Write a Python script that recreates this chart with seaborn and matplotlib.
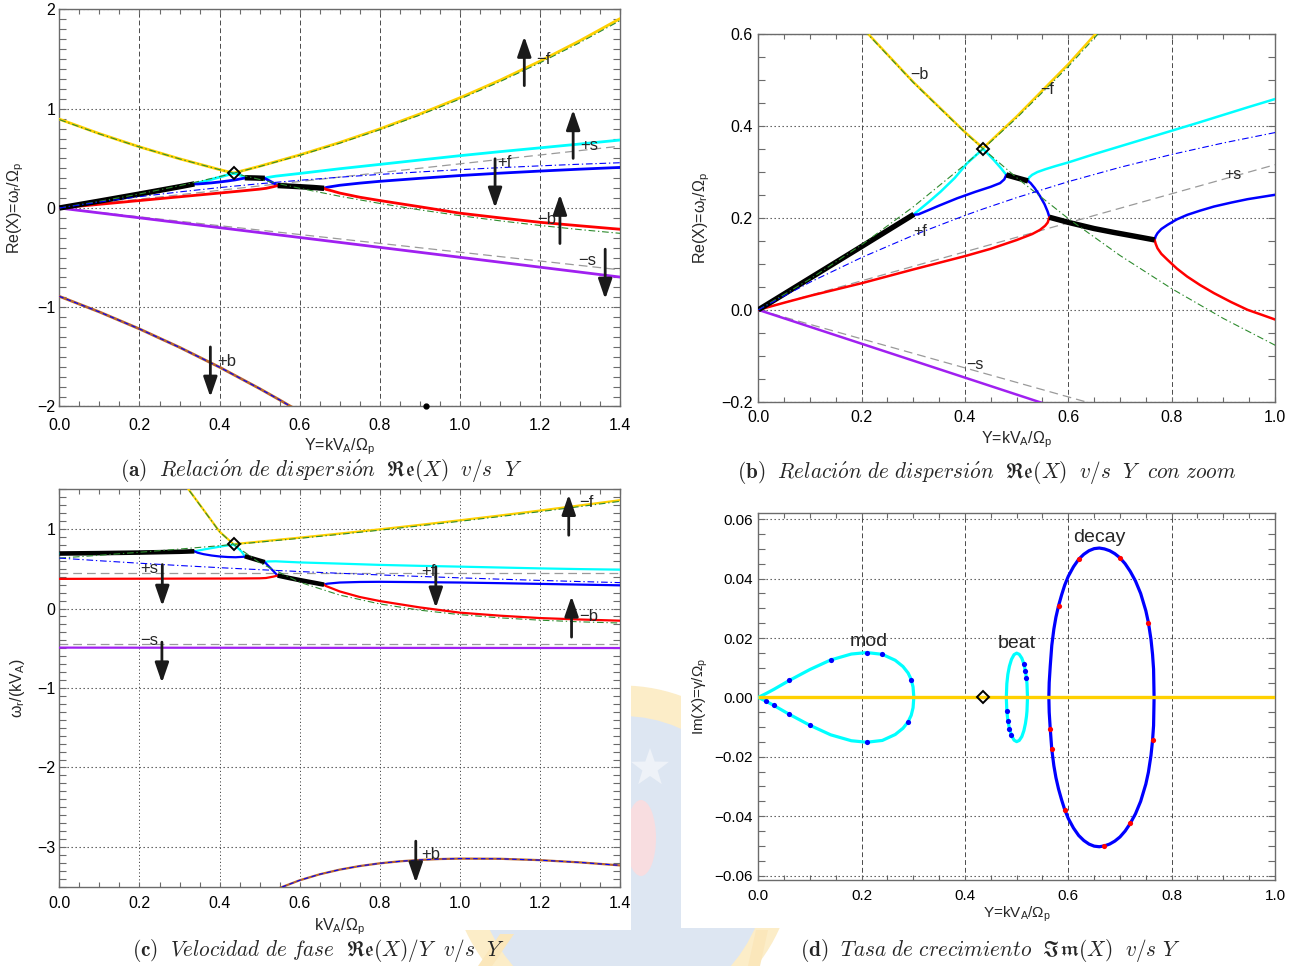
import numpy as np
import matplotlib
matplotlib.use("Agg")
import matplotlib.pyplot as plt
from matplotlib.ticker import MultipleLocator
from matplotlib.patches import Ellipse, Rectangle, Polygon
from matplotlib.transforms import Affine2D
import seaborn as sns

# ---------------------------------------------------------------------------
# Pump wave position in the (Y, Re X) plane
PUMP_Y = 0.435
PUMP_RE = 0.3506

# ---------------------------------------------------------------------------
# Uncoupled sideband lines on a common Y grid (same pump for every panel)
y_grid = [0.0, 0.1, 0.2, 0.3, 0.4, 0.435, 0.5, 0.6, 0.7, 0.8, 0.9, 1.0, 1.1, 1.2, 1.3, 1.4]
# branch through the origin and the pump (phase velocity Re X / Y)
green_up_vph = [0.6346, 0.670, 0.708, 0.748, 0.7905, 0.806, 0.8354, 0.883, 0.9329,
                0.9853, 1.0401, 1.0973, 1.1568, 1.2186, 1.2824, 1.3484]
# branch starting at Re X = 0.89 and crossing the pump
green_down_re = [0.8904, 0.7464, 0.6148, 0.4950, 0.3862, 0.3506, 0.2877, 0.1987, 0.1184,
                 0.0462, -0.0187, -0.0769, -0.1291, -0.1758, -0.2177, -0.2552]
# +f line (phase velocity)
fwd_vph = [0.6346, 0.601, 0.570, 0.541, 0.514, 0.505, 0.4888, 0.4653, 0.4433,
           0.4229, 0.4038, 0.386, 0.3694, 0.3538, 0.3394, 0.3258]
# -b / -f root
yellow_re = [0.895, 0.749, 0.616, 0.496, 0.387, 0.352, 0.421, 0.535, 0.660, 0.797,
             0.947, 1.110, 1.287, 1.479, 1.686, 1.908]
# +b root
plusb_y = [0.0, 0.1, 0.2, 0.3, 0.4, 0.5, 0.55, 0.6, 0.65, 0.7, 0.75, 0.8, 0.85, 0.9, 0.95,
           1.0, 1.1, 1.2, 1.3, 1.4]
plusb_re = [-0.8904, -1.0475, -1.2185, -1.4038, -1.6041, -1.8198, -1.9337, -2.0516, -2.1736,
            -2.2997, -2.4301, -2.5647, -2.7036, -2.8468, -2.9944, -3.1464, -3.4637, -3.7990,
            -4.1526, -4.5246]
# sound lines (phase velocity)
sound_y = [0.0, 1.4]
sound_vph_a = [0.445, 0.445]
sound_vph_b = [0.316, 0.316]

# ---------------------------------------------------------------------------
# Coupled roots, first parameter set (panels a and c), as phase velocity
a_black1_y = [0.0, 0.1, 0.2, 0.3, 0.337]
a_black1_v = [0.692, 0.697, 0.704, 0.714, 0.720]
a_cyan2_y = [0.337, 0.36, 0.38, 0.40, 0.42, 0.435]
a_cyan2_v = [0.720, 0.742, 0.760, 0.778, 0.794, 0.806]
a_cyan3_y = [0.435, 0.445, 0.455, 0.463]
a_cyan3_v = [0.806, 0.765, 0.715, 0.658]
a_blue1_y = [0.337, 0.345, 0.36, 0.38, 0.40, 0.42, 0.44, 0.463]
a_blue1_v = [0.720, 0.702, 0.684, 0.667, 0.655, 0.648, 0.645, 0.652]
a_black2_y = [0.463, 0.488, 0.513]
a_black2_v = [0.658, 0.620, 0.583]
a_cyan4_y = [0.513, 0.52, 0.54, 0.6, 0.7, 0.8, 0.9, 1.0, 1.1, 1.2, 1.3, 1.4]
a_cyan4_v = [0.583, 0.592, 0.594, 0.580, 0.565, 0.549, 0.537, 0.527, 0.516, 0.505, 0.496, 0.489]
a_blue2_y = [0.513, 0.52, 0.53, 0.54, 0.545]
a_blue2_v = [0.583, 0.546, 0.494, 0.441, 0.415]
a_red1_y = [0.0, 0.1, 0.2, 0.3, 0.4, 0.45, 0.5, 0.516, 0.535, 0.545]
a_red1_v = [0.373, 0.374, 0.375, 0.376, 0.377, 0.378, 0.380, 0.384, 0.402, 0.415]
a_black3_y = [0.545, 0.575, 0.605, 0.635, 0.661]
a_black3_v = [0.415, 0.383, 0.353, 0.325, 0.300]
a_blue3_y = [0.661, 0.665, 0.67, 0.70, 0.75, 0.80, 0.90, 1.0, 1.1, 1.2, 1.3, 1.4]
a_blue3_v = [0.300, 0.308, 0.313, 0.327, 0.334, 0.336, 0.332, 0.327, 0.319, 0.310, 0.301, 0.292]
a_red2_y = [0.661, 0.665, 0.68, 0.70, 0.75, 0.80, 0.90, 1.0, 1.1, 1.2, 1.3, 1.4]
a_red2_v = [0.300, 0.284, 0.255, 0.215, 0.145, 0.094, 0.014, -0.052, -0.090, -0.120, -0.138, -0.153]
a_purple_y = [0.0, 0.7, 1.4]
a_purple_v = [-0.492, -0.495, -0.497]

# ---------------------------------------------------------------------------
# Coupled roots, second parameter set (panel b), as Re X
b_black1_y = [0.0, 0.1, 0.2, 0.301]
b_black1_re = [0.0, 0.069, 0.138, 0.208]
b_cyan2_y = [0.301, 0.33, 0.353, 0.38, 0.404, 0.435]
b_cyan2_re = [0.208, 0.235, 0.2575, 0.287, 0.319, 0.3506]
b_cyan3_y = [0.435, 0.456, 0.47, 0.48]
b_cyan3_re = [0.3506, 0.326, 0.308, 0.2938]
b_blue1_y = [0.301, 0.31, 0.327, 0.35, 0.385, 0.42, 0.45, 0.468, 0.476, 0.48]
b_blue1_re = [0.207, 0.208, 0.216, 0.227, 0.243, 0.257, 0.268, 0.276, 0.284, 0.2938]
b_black2_y = [0.48, 0.522]
b_black2_re = [0.2938, 0.2807]
b_cyan4_y = [0.522, 0.524, 0.53, 0.54, 0.555, 0.575, 0.6, 0.65, 0.7, 0.75, 0.8, 0.85, 0.9, 0.95, 1.0]
b_cyan4_re = [0.2807, 0.288, 0.294, 0.300, 0.306, 0.313, 0.321, 0.339, 0.356, 0.373, 0.390,
              0.407, 0.4245, 0.442, 0.459]
b_blue2_y = [0.522, 0.527, 0.535, 0.545, 0.554, 0.56, 0.5635]
b_blue2_re = [0.2807, 0.276, 0.265, 0.248, 0.230, 0.214, 0.2016]
b_red1_y = [0.0, 0.05, 0.1, 0.2, 0.3, 0.4, 0.45, 0.5, 0.53, 0.545, 0.555, 0.56, 0.5635]
b_red1_re = [0.0, 0.0155, 0.0305, 0.058, 0.088, 0.117, 0.133, 0.152, 0.165, 0.174, 0.183, 0.190, 0.2016]
b_black3_y = [0.5635, 0.601, 0.65, 0.689, 0.73, 0.767]
b_black3_re = [0.2016, 0.1902, 0.177, 0.1684, 0.160, 0.1523]
b_split_y = [0.767, 0.769, 0.7726, 0.78, 0.792, 0.81, 0.83, 0.855, 0.882, 0.915, 0.947, 0.975, 1.0]
b_blue3_re = [0.1523, 0.160, 0.167, 0.176, 0.1851, 0.197, 0.2068, 0.216, 0.225, 0.2335, 0.241, 0.246, 0.2505]
b_red2_re = [0.1523, 0.144, 0.134, 0.122, 0.1089, 0.090, 0.0725, 0.054, 0.0363, 0.017, 0.0, -0.011, -0.021]
b_purple_y = [0.0, 1.0]
b_purple_re = [0.0, -0.369]

# ---------------------------------------------------------------------------
# Growth rates (panel d), upper half of each loop; the conjugate root mirrors it
mod_y = [0.0, 0.015, 0.03, 0.06, 0.10, 0.14, 0.18, 0.21, 0.24, 0.265, 0.28, 0.29, 0.296, 0.2995, 0.301]
mod_im = [0.0, 0.0013, 0.0027, 0.0057, 0.0094, 0.0126, 0.0146, 0.0151, 0.0145, 0.0125,
          0.0104, 0.0082, 0.0060, 0.0035, 0.0]
beat_y = [0.480, 0.481, 0.483, 0.486, 0.490, 0.495, 0.500, 0.505, 0.510, 0.514, 0.517, 0.519, 0.520, 0.521]
beat_im = [0.0, 0.0046, 0.0078, 0.0105, 0.0128, 0.0144, 0.0149, 0.0145, 0.0132, 0.0112,
           0.0088, 0.0064, 0.0046, 0.0]
decay_y = [0.5623, 0.563, 0.565, 0.568, 0.572, 0.576, 0.581, 0.587, 0.593, 0.60, 0.61, 0.62,
           0.63, 0.64, 0.65, 0.66, 0.67, 0.68, 0.69, 0.70, 0.71, 0.72, 0.73, 0.74, 0.75, 0.755,
           0.76, 0.763, 0.765, 0.766]
decay_im = [0.0, 0.005, 0.0105, 0.0175, 0.0230, 0.0270, 0.0308, 0.0345, 0.0378, 0.0408, 0.0440,
            0.0465, 0.0482, 0.0494, 0.0501, 0.0503, 0.0500, 0.0494, 0.0484, 0.0470, 0.0450,
            0.0424, 0.0392, 0.0350, 0.0292, 0.0252, 0.0195, 0.0145, 0.0095, 0.0]
im_y_span = [0.0, 1.0]
im_zero = [0.0, 0.0]

# ---------------------------------------------------------------------------
sns.set_theme(style="white")
plt.rcParams.update({
    "font.family": ["Liberation Sans", "DejaVu Sans"],
    "mathtext.fontset": "custom",
    "mathtext.rm": "Liberation Sans",
    "mathtext.it": "Liberation Sans:italic",
    "mathtext.bf": "Liberation Sans:bold",
    "axes.unicode_minus": True,
})

YEL = "#ffd000"
CYAN = "#00ffff"
BLUE = "#0000ff"
RED = "#ff0000"
PURPLE = "#a020f0"
GREEN = "#2e8b2e"
GREY = "#9a9a9a"
BROWN = "#b8652e"
FRAME_C = "#6b6b6b"
GRID_C = "#4a4a4a"
DASHED = (0, (5, 3))
DOTTED = (0, (1.2, 2.4))
DASHDOT = (0, (6, 2.5, 1.2, 2.5))
SNDDASH = (0, (7, 4))

W, H = 1296, 966
fig = plt.figure(figsize=(W / 100, H / 100), dpi=100)
fig.patch.set_facecolor("white")
px = Affine2D().scale(1.0 / W, -1.0 / H).translate(0, 1) + fig.transFigure

# faint crest printed behind the lower figures
fig.add_artist(Ellipse((622, 858), 345, 345, transform=px, facecolor="#fcedc8", edgecolor="none", zorder=-3))
fig.add_artist(Ellipse((622, 866), 292, 300, transform=px, facecolor="#dde6f2", edgecolor="none", zorder=-3))
fig.add_artist(Ellipse((641, 838), 30, 76, transform=px, facecolor="#f8dde0", edgecolor="none", zorder=-3))
ang = np.linspace(0, 2 * np.pi, 11)[:-1] + np.pi / 2
rad = np.where(np.arange(10) % 2 == 0, 20, 8)
fig.add_artist(Polygon(np.c_[650 + rad * np.cos(ang), 768 - rad * np.sin(ang)], transform=px,
                       facecolor="#eef2f8", edgecolor="none", zorder=-3))
fig.add_artist(Polygon([(478, 966), (500, 934), (514, 934), (492, 966)], transform=px,
                       facecolor="#fbe7bb", edgecolor="none", zorder=-3))
fig.add_artist(Polygon([(748, 966), (756, 930), (768, 930), (760, 966)], transform=px,
                       facecolor="#fbe7bb", edgecolor="none", zorder=-3))
fig.add_artist(Rectangle((0, 480), 631, 450, transform=px, facecolor="white", edgecolor="none", zorder=-1))
fig.add_artist(Rectangle((681, 480), 615, 448, transform=px, facecolor="white", edgecolor="none", zorder=-1))


def frac_box(l, t, r, b):
    return [l / W, 1 - b / H, (r - l) / W, (b - t) / H]


axA = fig.add_axes(frac_box(59.4, 9.5, 620, 406.5))
axB = fig.add_axes(frac_box(758.3, 34.3, 1275, 401.7))
axC = fig.add_axes(frac_box(59.4, 489.3, 620, 886.7))
axD = fig.add_axes(frac_box(758.3, 513.3, 1275, 880))


def draw(ax, x, y, color, lw, ls="-", z=3, cap="round"):
    sns.lineplot(x=np.asarray(x, float), y=np.asarray(y, float), ax=ax, color=color,
                 linewidth=lw, linestyle=ls, estimator=None, sort=False, errorbar=None,
                 zorder=z, solid_capstyle=cap)


def arrow(ax, x, y_from, y_to):
    ax.annotate("", xy=(x, y_to), xytext=(x, y_from), zorder=7,
                arrowprops=dict(arrowstyle="-|>,head_length=1.1,head_width=0.38", color="k",
                                lw=2.0, shrinkA=0, shrinkB=0, mutation_scale=11))


def label(ax, x, y, s, fs):
    ax.text(x, y, s, fontsize=fs, ha="left", va="center", zorder=7)


def style(ax, xlim, ylim, xmaj, xmin, ymaj, ymin, vls, hls, xlen, ylen, xpad, ypad, fs):
    ax.set_xlim(*xlim)
    ax.set_ylim(*ylim)
    ax.xaxis.set_major_locator(MultipleLocator(xmaj))
    ax.xaxis.set_minor_locator(MultipleLocator(xmin))
    ax.yaxis.set_major_locator(MultipleLocator(ymaj))
    ax.yaxis.set_minor_locator(MultipleLocator(ymin))
    ax.tick_params(which="both", direction="in", top=True, right=True, bottom=True, left=True,
                   colors=FRAME_C, labelcolor="black", width=0.8, labelsize=fs)
    ax.tick_params(axis="x", which="both", length=xlen, pad=xpad)
    ax.tick_params(axis="y", which="both", length=ylen, pad=ypad)
    for sp in ax.spines.values():
        sp.set_visible(True)
        sp.set_color(FRAME_C)
        sp.set_linewidth(1.0)
    ax.grid(True, axis="x", which="major", color=GRID_C, lw=0.7, ls=vls)
    ax.grid(True, axis="y", which="major", color=GRID_C, lw=0.8, ls=hls)
    ax.set_axisbelow(True)


# ---------------------------------------------------------------------------
# Panels (a) and (c): same roots, shown as Re X and as Re X / Y
def set_a_panel(ax, as_phase):
    yg = np.asarray(y_grid)
    lw = 1.6 if as_phase else 2.0
    lwk = 3.3 if as_phase else 3.9

    def from_v(y, v):
        y, v = np.asarray(y, float), np.asarray(v, float)
        return (y, v) if as_phase else (y, v * y)

    def from_re(y, r):
        y, r = np.asarray(y, float), np.asarray(r, float)
        if not as_phase:
            return y, r
        m = y > 0
        return y[m], r[m] / y[m]

    for sgn in (1, -1):
        sy, sv = from_v(sound_y, sgn * np.asarray(sound_vph_a))
        draw(ax, sy, sv, GREY, 0.9, SNDDASH, z=2)
    draw(ax, *from_re(yg, yellow_re), YEL, lw)
    draw(ax, *from_re(plusb_y, plusb_re), BROWN, lw)
    draw(ax, *from_re(plusb_y, plusb_re), BLUE, 0.8, (0, (4, 3)), z=4)
    draw(ax, *from_v(a_purple_y, a_purple_v), PURPLE, lw)
    draw(ax, *from_v(a_black1_y, a_black1_v), CYAN, lw)
    draw(ax, *from_v(a_cyan2_y, a_cyan2_v), CYAN, lw)
    draw(ax, *from_v(a_cyan3_y, a_cyan3_v), CYAN, lw)
    draw(ax, *from_v(a_cyan4_y, a_cyan4_v), CYAN, lw)
    draw(ax, *from_v(a_blue1_y, a_blue1_v), BLUE, lw)
    draw(ax, *from_v(a_blue2_y, a_blue2_v), BLUE, lw)
    draw(ax, *from_v(a_blue3_y, a_blue3_v), BLUE, lw)
    draw(ax, *from_v(a_red1_y, a_red1_v), RED, lw)
    draw(ax, *from_v(a_red2_y, a_red2_v), RED, lw)
    for yy, vv in ((a_black1_y, a_black1_v), (a_black2_y, a_black2_v), (a_black3_y, a_black3_v)):
        draw(ax, *from_v(yy, vv), "black", lwk, z=4, cap="butt")
    draw(ax, *from_v(yg, green_up_vph), GREEN, 0.8, DASHDOT, z=5)
    draw(ax, *from_re(yg, green_down_re), GREEN, 0.8, DASHDOT, z=5)
    draw(ax, *from_v(yg, fwd_vph), BLUE, 0.8, DASHDOT, z=5)
    py = PUMP_RE / PUMP_Y if as_phase else PUMP_RE
    ax.plot([PUMP_Y], [py], marker="D", ms=6.5, mfc="none", mec="black", mew=1.4, zorder=6)


set_a_panel(axA, False)
set_a_panel(axC, True)
axA.plot([0.916], [-1.99], "o", color="black", ms=3.5, clip_on=False, zorder=6)

LAB_FS = 12
for x, y0, y1 in ((1.161, 1.233, 1.729), (1.283, 0.50, 0.99), (1.088, 0.496, 0.0),
                  (1.250, -0.358, 0.137), (1.363, -0.415, -0.918), (0.377, -1.40, -1.905)):
    arrow(axA, x, y0, y1)
for x, y, s in ((1.19, 1.50, "−f"), (1.30, 0.633, "+s"), (1.093, 0.456, "+f"),
                (1.193, -0.12, "−b"), (1.296, -0.533, "−s"), (0.395, -1.545, "+b")):
    label(axA, x, y, s, LAB_FS)

for x, y0, y1 in ((1.272, 0.922, 1.434), (0.257, 0.553, 0.03), (0.940, 0.524, 0.008),
                  (1.279, -0.36, 0.155), (0.256, -0.423, -0.935), (0.890, -2.927, -3.45)):
    arrow(axC, x, y0, y1)
for x, y, s in ((1.297, 1.337, "−f"), (0.202, 0.499, "+s"), (0.903, 0.47, "+f"),
                (1.297, -0.096, "−b"), (0.202, -0.398, "−s"), (0.903, -3.094, "+b")):
    label(axC, x, y, s, LAB_FS)

# ---------------------------------------------------------------------------
# Panel (b): second parameter set, zoomed
yg = np.asarray(y_grid)
for sgn in (1, -1):
    draw(axB, sound_y, sgn * np.asarray(sound_vph_b) * np.asarray(sound_y), GREY, 0.9, SNDDASH, z=2)
LWB = 1.8
draw(axB, yg, yellow_re, YEL, LWB)
draw(axB, b_purple_y, b_purple_re, PURPLE, LWB)
draw(axB, b_black1_y, b_black1_re, CYAN, LWB)
draw(axB, b_cyan2_y, b_cyan2_re, CYAN, LWB)
draw(axB, b_cyan3_y, b_cyan3_re, CYAN, LWB)
draw(axB, b_cyan4_y, b_cyan4_re, CYAN, LWB)
draw(axB, b_blue1_y, b_blue1_re, BLUE, LWB)
draw(axB, b_blue2_y, b_blue2_re, BLUE, LWB)
draw(axB, b_split_y, b_blue3_re, BLUE, LWB)
draw(axB, b_red1_y, b_red1_re, RED, LWB)
draw(axB, b_split_y, b_red2_re, RED, LWB)
for yy, rr in ((b_black1_y, b_black1_re), (b_black2_y, b_black2_re), (b_black3_y, b_black3_re)):
    draw(axB, yy, rr, "black", 3.9, z=4, cap="butt")
draw(axB, yg, np.asarray(green_up_vph) * yg, GREEN, 0.8, DASHDOT, z=5)
draw(axB, yg, green_down_re, GREEN, 0.8, DASHDOT, z=5)
draw(axB, yg, np.asarray(fwd_vph) * yg, BLUE, 0.8, DASHDOT, z=5)
axB.plot([PUMP_Y], [PUMP_RE], marker="D", ms=6.5, mfc="none", mec="black", mew=1.4, zorder=6)
for x, y, s in ((0.295, 0.512, "−b"), (0.545, 0.479, "−f"), (0.299, 0.171, "+f"),
                (0.902, 0.294, "+s"), (0.403, -0.118, "−s")):
    label(axB, x, y, s, 11.5)

# ---------------------------------------------------------------------------
# Panel (d): growth rates of the three instabilities
LWD = 2.3


def loop(ax, y, im, base, accent, up_marks, low_marks):
    y = np.asarray(y, float)
    im = np.asarray(im, float)
    for sgn, marks in ((1, up_marks), (-1, low_marks)):
        draw(ax, y, sgn * im, base, LWD, z=3)
        if marks:
            sns.scatterplot(x=y[marks], y=sgn * im[marks], ax=ax, color=accent, s=14,
                            marker="o", linewidth=0, zorder=3.5, legend=False)


loop(axD, mod_y, mod_im, CYAN, BLUE, [3, 5, 7, 8, 12], [1, 2, 3, 4, 7, 11])
loop(axD, beat_y, beat_im, CYAN, BLUE, [9, 10, 11], [1, 2, 3, 4])
loop(axD, decay_y, decay_im, BLUE, RED, [6, 11, 19, 25], [2, 3, 8, 16, 21, 27])
draw(axD, im_y_span, im_zero, YEL, 2.4, z=4, cap="butt")
axD.plot([PUMP_Y], [0.0], marker="D", ms=6.5, mfc="none", mec="black", mew=1.4, zorder=6)
for x, y, s in ((0.213, 0.0173, "mod"), (0.501, 0.0167, "beat"), (0.66, 0.0524, "decay")):
    axD.text(x, y, s, fontsize=14, ha="center", va="baseline", zorder=7)

# ---------------------------------------------------------------------------
style(axA, (0, 1.4), (-2, 2), 0.2, 0.05, 1, 0.1, DASHED, DOTTED, 3.6, 5.2, 8, 3, 11.5)
style(axB, (0, 1.0), (-0.2, 0.6), 0.2, 0.05, 0.2, 0.05, DASHED, DOTTED, 3.5, 4.8, 6, 4, 11.5)
style(axC, (0, 1.4), (-3.5, 1.5), 0.2, 0.05, 1, 0.1, DOTTED, DOTTED, 3.6, 5.2, 7, 3, 11.5)
style(axD, (0, 1.0), (-0.0615, 0.062), 0.2, 0.05, 0.02, 0.005, DASHED, DOTTED, 3.5, 4.8, 6.5, 4, 11)

xl_y = "Y=kV$_\\mathrm{A}$/Ω$_\\mathrm{p}$"
axA.set_xlabel(xl_y, fontsize=11.5, labelpad=3)
axA.set_ylabel("Re(X)=ω$_\\mathrm{r}$/Ω$_\\mathrm{p}$", fontsize=11.5, labelpad=8)
axB.set_xlabel(xl_y, fontsize=11.5, labelpad=3.5)
axB.set_ylabel("Re(X)=ω$_\\mathrm{r}$/Ω$_\\mathrm{p}$", fontsize=11.5, labelpad=7)
axC.set_xlabel("kV$_\\mathrm{A}$/Ω$_\\mathrm{p}$", fontsize=11.5, labelpad=3.5)
axC.set_ylabel("ω$_\\mathrm{r}$/(kV$_\\mathrm{A}$)", fontsize=11.5, labelpad=7)
axD.set_xlabel(xl_y, fontsize=11, labelpad=1.5)
axD.set_ylabel("Im(X)=γ/Ω$_\\mathrm{p}$", fontsize=11, labelpad=3)

# ---------------------------------------------------------------------------
# Sub-figure captions
captions = [
    (120, 471, r"$\mathbf{(a)}\ \ \mathit{Relaci\acute{o}n\ de\ dispersi\acute{o}n}\ \ \mathfrak{Re}(X)\ \ \mathit{v/s\ \ Y}$"),
    (737, 472, r"$\mathbf{(b)}\ \ \mathit{Relaci\acute{o}n\ de\ dispersi\acute{o}n}\ \ \mathfrak{Re}(X)\ \ \mathit{v/s\ \ Y\ \ con\ zoom}$"),
    (132, 951, r"$\mathbf{(c)}\ \ \mathit{Velocidad\ de\ fase}\ \ \mathfrak{Re}(X)/Y\ \ \mathit{v/s\ \ Y}$"),
    (800, 951, r"$\mathbf{(d)}\ \ \mathit{Tasa\ de\ crecimiento}\ \ \mathfrak{Im}(X)\ \ \mathit{v/s\ Y}$"),
]
for x, y, s in captions:
    fig.text(x / W, 1 - y / H, s, fontsize=15.3, ha="left", va="center", math_fontfamily="cm", zorder=5)

fig.savefig("out.png", dpi=100)
